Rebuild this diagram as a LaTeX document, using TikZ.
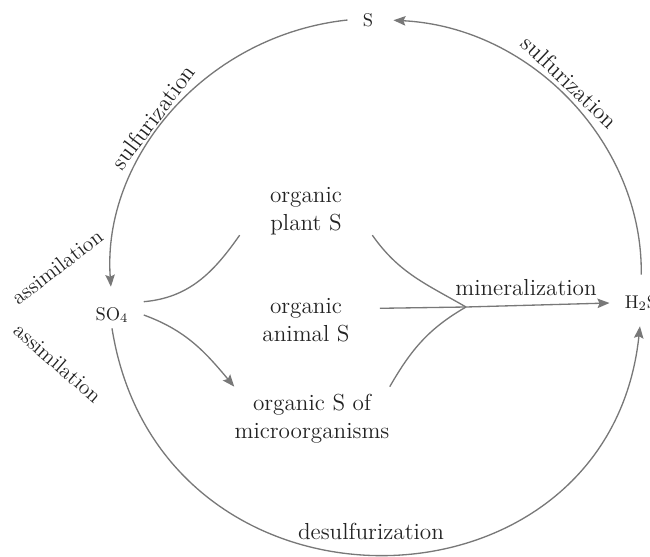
\documentclass[tikz,border=0pt]{standalone}
\usepackage{tikz}
\usetikzlibrary{%
  arrows.meta,
  positioning,
}
\definecolor{linegray}{RGB}{120,120,120}
\definecolor{textgray}{RGB}{35,35,35}

\begin{document}
\begin{tikzpicture}[
    x = 0.02cm, y = 0.02cm,
    > = {Stealth[length=2.4mm, width=1.9mm, inset=0.4mm]},
    every node/.style = {text = textgray},
    chem/.style = {font = \fontsize{10.5}{12}\selectfont, inner xsep = 0.3cm, inner ysep = 0.1cm},
    pool/.style = {font = \fontsize{13.2}{15.9}\selectfont, align = center, inner xsep = 0.6cm, inner ysep = 0pt},
    proc/.style = {font = \fontsize{13.2}{15.9}\selectfont, inner sep = 0pt},
    flow/.style = {draw = linegray, line width = 0.75pt},
  ]
        \useasboundingbox (0,0) rectangle (650,556);

        % sulfur species on the outer cycle
        \node[chem] (S) at (368,536) {S};
        \node[chem] (SO4) at (112,241) {SO\textsubscript{4}};
        \node[chem] (H2S) at (641,253) {H\textsubscript{2}S};

        % organic sulfur pools
        \node[pool] (plant) at (306,345) {organic\\plant S};
        \node[pool] (animal) at (306,236) {organic\\animal S};
        \node[pool, inner xsep = 0pt, inner ysep = 0.15cm] (micro) at (312,137) {organic S of\\microorganisms};
        \coordinate (mix) at (466,249);

        % outer cycle
        \draw[flow, ->, shorten >= 0.3cm] (S.west) to[bend right=44] (SO4.north);
        \draw[flow, ->, shorten <= 0.3cm, shorten >= 0.1cm] (H2S.north) to[bend right=44] (S.east);
        \draw[flow, ->, shorten >= 0.2cm]
          (SO4.south) to[out=-81, in=-96, looseness=1.5] (H2S.south);

        % uptake
        \draw[flow] (SO4.north east) to[out=5, in=-125] (plant.south west);
        \draw[flow, ->] (SO4.east) to[out=-20, in=130] (micro.north west);

        % back to H2S
        \draw[flow] (plant.south east) to[out=-55, in=150] (mix);
        \draw[flow] (animal.9) -- (mix);
        \draw[flow] (micro.north east) to[out=60, in=-150] (mix);
        \draw[flow, ->] (mix) -- (H2S.west);

        % process labels
        \node[proc] (minl) at (526,268) {mineralization};
        \node[proc] (desl) at (371,25) {desulfurization};
        \node[proc, rotate=53] (sulfl) at (153,439) {sulfurization};
        \node[proc, rotate=-43.5] (sulfr) at (570,474) {sulfurization};
        \node[proc, font = \fontsize{12.2}{14}\selectfont, rotate=37.6] (assl) at (57,289) {assimilation};
        \node[proc, font = \fontsize{12.2}{14}\selectfont, rotate=-41] (assr) at (58,193) {assimilation};
      \end{tikzpicture}
\end{document}
